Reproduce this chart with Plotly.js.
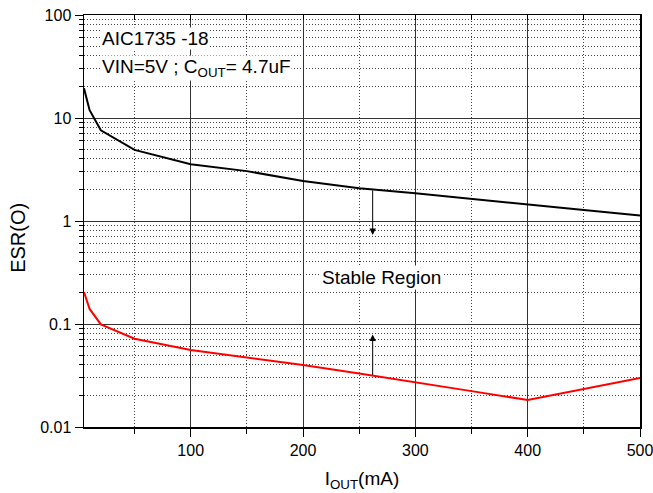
<!DOCTYPE html>
<html>
<head>
<meta charset="utf-8">
<script src="https://cdn.plot.ly/plotly-3.0.1.min.js"></script>
<style>html,body{margin:0;padding:0;background:#fff;}#chart{width:653px;height:493px;}</style>
</head>
<body>
<div id="chart"></div>
<script>
// Data
var currentMA = [5, 10, 20, 50, 100, 150, 200, 250, 300, 350, 400, 450, 500];
var esrUpper  = [19.4, 11.9, 7.6, 4.9, 3.55, 3.05, 2.45, 2.08, 1.86, 1.65, 1.45, 1.28, 1.13];
var esrLower  = [0.204, 0.14, 0.099, 0.072, 0.056, 0.047, 0.040, 0.033, 0.0273, 0.0223, 0.0183, 0.0234, 0.030];

var xTickVals = [100, 200, 300, 400, 500];
var xMinorVals = [50, 150, 250, 350, 450];
var yTickVals = [0.01, 0.1, 1, 10, 100];
var yTickText = ["0.01", "0.1", "1", "10", "100"];

var arrowX = 262;
var upperArrow = [2.05, 0.73];   // tail on upper curve -> tip
var lowerArrow = [0.031, 0.079]; // tail on lower curve -> tip

var yMinorVals = [];
[0.01, 0.1, 1, 10].forEach(function (d) {
  for (var k = 2; k <= 9; k++) yMinorVals.push(d * k);
});

var FONT = 'Arial, "Liberation Sans", sans-serif';

var traces = [
  {x: currentMA, y: esrUpper, type: 'scatter', mode: 'lines', xaxis: 'x2', yaxis: 'y',
   line: {color: '#000000', width: 2}, hoverinfo: 'skip', showlegend: false},
  {x: currentMA, y: esrLower, type: 'scatter', mode: 'lines', xaxis: 'x', yaxis: 'y',
   line: {color: '#ff0000', width: 2}, hoverinfo: 'skip', showlegend: false}
];

var L10 = Math.log10;

var layout = {
  width: 653, height: 493,
  margin: {l: 84, r: 13, t: 15, b: 66},
  paper_bgcolor: '#ffffff', plot_bgcolor: '#ffffff',
  font: {family: FONT, color: '#000', size: 16},
  showlegend: false,
  xaxis: {
    range: [5, 500], type: 'linear',
    tickmode: 'array', tickvals: xTickVals,
    ticks: 'outside', ticklen: 8, tickwidth: 1, tickcolor: '#000',
    ticklabeloverflow: 'allow',
    showline: true, linecolor: '#000', linewidth: 1.5, mirror: true,
    showgrid: true, gridcolor: '#333', gridwidth: 1,
    zeroline: false,
    tickfont: {size: 16, family: FONT},
    minor: {tickmode: 'array', tickvals: xMinorVals, ticks: 'outside', ticklen: 5,
            tickcolor: '#000', showgrid: true, gridcolor: '#444', griddash: '1px,2px', gridwidth: 1},
    title: {text: 'I<sub>OUT</sub>(mA)', font: {size: 19, family: FONT}, standoff: 14}
  },
  xaxis2: {
    range: [5, 500], type: 'linear', overlaying: 'x', side: 'top',
    tickmode: 'array', tickvals: xMinorVals.concat(xTickVals),
    ticks: 'inside', ticklen: 5, tickcolor: '#000',
    showticklabels: false, showgrid: false, showline: false, zeroline: false
  },
  yaxis: {
    type: 'log', range: [-2, 2],
    tickmode: 'array', tickvals: yTickVals, ticktext: yTickText,
    ticks: 'outside', ticklen: 8, tickwidth: 1, tickcolor: '#000',
    showline: true, linecolor: '#000', linewidth: 1.5, mirror: true,
    showgrid: true, gridcolor: '#333', gridwidth: 1,
    zeroline: false,
    tickfont: {size: 16, family: FONT},
    minor: {tickmode: 'array', tickvals: yMinorVals, ticks: 'outside', ticklen: 4,
            tickcolor: '#000', showgrid: true, gridcolor: '#444', griddash: '1px,2px', gridwidth: 1},
    title: {text: ''}
  },
  annotations: [
    {xref: 'paper', yref: 'paper', x: -0.118, y: 0.46, text: 'ESR(O)', textangle: -90,
     showarrow: false, font: {size: 20, family: FONT}, xanchor: 'center', yanchor: 'middle'},
    {xref: 'paper', yref: 'paper', x: 0.03, y: 0.942, text: 'AIC1735 -18',
     showarrow: false, xanchor: 'left', yanchor: 'middle', bgcolor: '#ffffff', borderpad: 0,
     font: {size: 19, family: FONT}},
    {xref: 'paper', yref: 'paper', x: 0.03, y: 0.872, text: 'VIN=5V ; C<sub>OUT</sub>= 4.7uF',
     showarrow: false, xanchor: 'left', yanchor: 'middle', bgcolor: '#ffffff', borderpad: 0,
     font: {size: 19, family: FONT}},
    {xref: 'paper', yref: 'paper', x: 0.535, y: 0.362, text: 'Stable Region',
     showarrow: false, xanchor: 'center', yanchor: 'middle', bgcolor: '#ffffff', borderpad: 1,
     font: {size: 19, family: FONT}},
    {xref: 'x', yref: 'y', axref: 'x', ayref: 'y',
     x: arrowX, y: L10(upperArrow[1]), ax: arrowX, ay: L10(upperArrow[0]),
     text: '', showarrow: true, arrowhead: 2, arrowsize: 1.3, arrowwidth: 1, arrowcolor: '#000'},
    {xref: 'x', yref: 'y', axref: 'x', ayref: 'y',
     x: arrowX, y: L10(lowerArrow[1]), ax: arrowX, ay: L10(lowerArrow[0]),
     text: '', showarrow: true, arrowhead: 2, arrowsize: 1.3, arrowwidth: 1, arrowcolor: '#000'}
  ]
};

Plotly.newPlot('chart', traces, layout, {displayModeBar: false, staticPlot: true});
</script>
</body>
</html>
